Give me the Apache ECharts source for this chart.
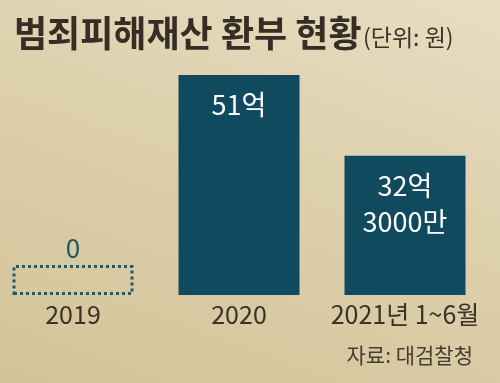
<!DOCTYPE html>
<html><head><meta charset="utf-8">
<script src="https://cdn.jsdelivr.net/npm/echarts@6/dist/echarts.min.js"></script>
<style>
html,body{margin:0;padding:0;}
#c{width:500px;height:383px;background:linear-gradient(200deg,#e8ddc3 0%,#ddd0ac 45%,#d3c398 100%);}
</style></head>
<body><div id="c"></div>
<script>
const categories = ["2019", "2020", "2021년 1~6월"];
const values = [0, 5100000000, 3230000000];
const title = "범죄피해재산 환부 현황";
const unit = "(단위: 원)";
const source = "자료: 대검찰청";

const FONT = '"Noto Sans CJK KR", "Noto Sans", sans-serif';
const TEAL = '#0f4a5e';

function korNum(v) {
  if (v === 0) return "0";
  const eok = Math.floor(v / 1e8);
  const man = Math.round((v % 1e8) / 1e4);
  let s = "";
  if (eok) s += eok + "억";
  if (man) s += (s ? "\n" : "") + man + "만";
  return s;
}

const chart = echarts.init(document.getElementById('c'), null, {renderer: 'canvas'});
chart.setOption({
  backgroundColor: 'transparent',
  animation: false,
  title: [{
    text: title, left: 9, top: 10,
    textStyle: {fontFamily: FONT, fontSize: 36, fontWeight: 'bold', color: '#362e25'}
  }, {
    text: unit, left: 358, top: 21,
    textStyle: {fontFamily: FONT, fontSize: 23, fontWeight: 'normal', color: '#3b3329'}
  }, {
    text: source, right: 22, top: 340,
    textStyle: {fontFamily: FONT, fontSize: 21, fontWeight: 'normal', color: '#463d33'}
  }],
  grid: {left: 73, right: 95, top: 75, bottom: 88},
  xAxis: {
    type: 'category', data: categories, boundaryGap: false,
    axisLine: {show: false}, axisTick: {show: false},
    axisLabel: {interval: 0, hideOverlap: false, margin: 7, fontFamily: FONT, fontSize: 25, color: '#3a3127'}
  },
  yAxis: {type: 'value', min: 0, max: 5100000000, show: false, splitLine: {show: false}},
  series: [{
    type: 'bar',
    clip: false,
    barWidth: 121,
    barMinHeight: 30,
    data: values.map((v, i) => {
      if (v === 0) {
        return {
          value: v,
          itemStyle: {color: 'rgba(0,0,0,0)', borderColor: '#1d5a6a', borderWidth: 3, borderType: [3, 3]},
          label: {position: 'top', distance: 2, color: '#1a5868', fontSize: 26, lineHeight: 30}
        };
      }
      return {value: v};
    }),
    itemStyle: {color: TEAL},
    label: {
      show: true, position: 'insideTop', distance: 12,
      fontFamily: FONT, fontSize: 27, lineHeight: 36, color: '#ffffff',
      formatter: p => korNum(p.value)
    }
  }]
});
</script></body></html>
